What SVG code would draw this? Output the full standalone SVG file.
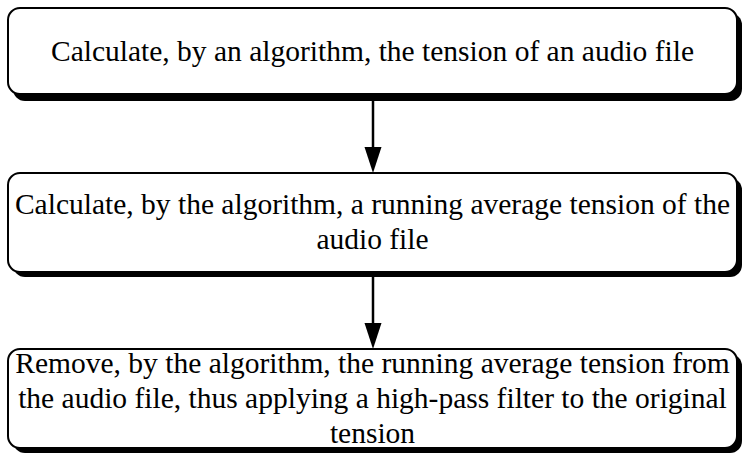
<svg xmlns="http://www.w3.org/2000/svg" width="743" height="455" viewBox="0 0 743 455">
<style>
.box{fill:#fff;stroke:#000;stroke-width:2}
.shadow{fill:#000}
.t{font-family:"Liberation Serif","Times New Roman",serif;font-size:29.5px;fill:#000;text-anchor:middle}
.c{stroke:#000;stroke-width:2.5;fill:none}
</style>
<g id="node1">
<rect class="shadow" x="13" y="13" width="729" height="88" rx="12"/>
<rect class="box" x="8" y="8" width="729" height="86" rx="12"/>
<text class="t" x="372.5" y="61">Calculate, by an algorithm, the tension of an audio file</text>
</g>
<g id="node2">
<rect class="shadow" x="13" y="178" width="729" height="99" rx="12"/>
<rect class="box" x="8" y="173" width="729" height="99" rx="12"/>
<text class="t" x="372.5" y="214">Calculate, by the algorithm, a running average tension of the</text>
<text class="t" x="372.5" y="249">audio file</text>
</g>
<g id="node3">
<rect class="shadow" x="13" y="354" width="729" height="99" rx="12"/>
<rect class="box" x="8" y="349" width="729" height="99" rx="12"/>
<text class="t" x="372.5" y="373">Remove, by the algorithm, the running average tension from</text>
<text class="t" x="372.5" y="408">the audio file, thus applying a high-pass filter to the original</text>
<text class="t" x="372.5" y="443">tension</text>
</g>
<g id="connectors">
<line class="c" x1="373" y1="101" x2="373" y2="148"/>
<path d="M364.5,147 L381.5,147 L373,173 Z" fill="#000"/>
<line class="c" x1="373" y1="277" x2="373" y2="324"/>
<path d="M364.5,323 L381.5,323 L373,349 Z" fill="#000"/>
</g>
</svg>
